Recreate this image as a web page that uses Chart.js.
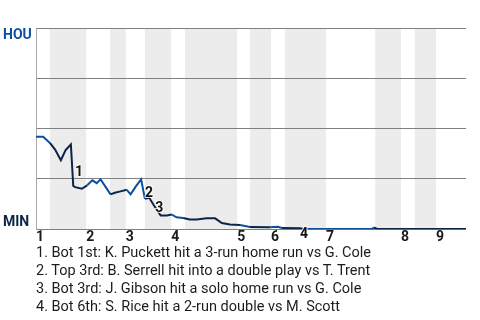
<!DOCTYPE html>
<html>
<head>
<meta charset="utf-8">
<script src="https://cdn.jsdelivr.net/npm/chart.js@4"></script>
<style>
  body { margin: 0; background: #fff; font-family: Roboto, sans-serif; }
  #wrap { position: relative; width: 480px; height: 320px; overflow: hidden; }
  #wpChart { position: absolute; left: 0; top: 0; }
  #notes { position: absolute; left: 36px; top: 244px; font-size: 14.5px; line-height: 18px; color: #1c1c1c; white-space: nowrap; }
</style>
</head>
<body>
<div id="wrap">
  <canvas id="wpChart" width="480" height="246"></canvas>
  <div id="notes"></div>
</div>
<script>
// x = game progress (plate appearances, roughly), y = HOU win probability (MIN = 0, HOU = 1)
const inningStart = [0, 10.5, 18.8, 28.3, 42.1, 49.2, 60.7, 76.4, 83.7];
const inningLabels = ["1", "2", "3", "4", "5", "6", "7", "8", "9"];
const bottomStart = [2.9, 15.5, 22.8, 31.2, 44.8, 52.1, 71.0, 79.3];
const gameEnd = 90;

const gameX = [0, 1.5, 2.9, 4.0, 5.2, 6.2, 7.3, 7.8, 8.2, 9.6, 10.7, 11.8, 12.7, 13.5, 14.6,
  15.6, 16.5, 17.7, 19.0, 19.8, 20.9, 22.0, 22.8, 23.7, 24.7, 25.3, 26.1, 27.4, 28.4, 29.4,
  30.8, 32.2, 33.6, 35.7, 37.5, 38.9, 40.6, 42.7, 44.8, 49.0, 50.6, 51.5, 55.3, 55.9, 70.3,
  70.7, 71.4, 90];
const winProb = [0.459, 0.459, 0.429, 0.396, 0.343, 0.393, 0.421, 0.215, 0.209, 0.201, 0.218, 0.243, 0.229, 0.248, 0.209,
  0.173, 0.181, 0.188, 0.196, 0.173, 0.213, 0.248, 0.151, 0.156, 0.118, 0.096, 0.068, 0.068, 0.073, 0.059,
  0.056, 0.048, 0.048, 0.054, 0.054, 0.031, 0.023, 0.021, 0.011, 0.010, 0.0125, 0.006, 0.005, 0.001, 0.001,
  0.0085, 0.001, 0.001];

// key plays: label spot on the chart + text
const eventX = [9.0, 23.65, 25.8, 56.1];
const eventY = [0.2825, 0.1775, 0.101, -0.0285];
const eventText = ["1", "2", "3", "4"];
const eventNotes = [
  "1. Bot 1st: K. Puckett hit a 3-run home run vs G. Cole",
  "2. Top 3rd: B. Serrell hit into a double play vs T. Trent",
  "3. Bot 3rd: J. Gibson hit a solo home run vs G. Cole",
  "4. Bot 6th: S. Rice hit a 2-run double vs M. Scott"
];

const HOU_BLUE = "#0d4f9f";
const MIN_NAVY = "#0b2447";

document.getElementById("notes").innerHTML = eventNotes.map(t => "<div>" + t + "</div>").join("");

function isBottomHalf(x) {
  for (let i = 0; i < bottomStart.length; i++) {
    let end = i + 1 < inningStart.length ? inningStart[i + 1] : gameEnd;
    if (x >= bottomStart[i] && x < end) return true;
  }
  return false;
}

const points = [];
for (let i = 0; i < gameX.length; i++) {
  points.push({ x: gameX[i], y: winProb[i] });
}

const bandsPlugin = {
  id: "halfBands",
  beforeDraw(chart) {
    const ctx = chart.ctx, area = chart.chartArea, xs = chart.scales.x;
    ctx.save();
    ctx.fillStyle = "#ececec";
    for (let i = 0; i < bottomStart.length; i++) {
      let end = i + 1 < inningStart.length ? inningStart[i + 1] : gameEnd;
      let x0 = xs.getPixelForValue(bottomStart[i]);
      let x1 = xs.getPixelForValue(end);
      ctx.fillRect(x0, area.top, x1 - x0, area.bottom - area.top);
    }
    ctx.restore();
  }
};

const labelsPlugin = {
  id: "teamAndPlays",
  afterDraw(chart) {
    const ctx = chart.ctx, xs = chart.scales.x, ys = chart.scales.y;
    ctx.save();
    ctx.font = "bold 14px Roboto";
    ctx.textAlign = "left";
    ctx.textBaseline = "alphabetic";
    ctx.fillStyle = HOU_BLUE;
    ctx.fillText("HOU", 3, ys.getPixelForValue(1) + 11);
    ctx.fillStyle = MIN_NAVY;
    ctx.fillText("MIN", 3, ys.getPixelForValue(0) - 3.5);

    ctx.textAlign = "center";
    ctx.textBaseline = "middle";
    ctx.lineWidth = 2;
    ctx.strokeStyle = "rgba(255,255,255,0.8)";
    ctx.fillStyle = "#111";
    for (let i = 0; i < eventText.length; i++) {
      let px = xs.getPixelForValue(eventX[i]);
      let py = ys.getPixelForValue(eventY[i]);
      ctx.strokeText(eventText[i], px, py);
      ctx.fillText(eventText[i], px, py);
    }
    ctx.restore();
  }
};

new Chart(document.getElementById("wpChart"), {
  type: "line",
  data: {
    datasets: [{
      data: points,
      borderWidth: 2,
      pointRadius: 0,
      tension: 0,
      fill: false,
      borderColor: HOU_BLUE,
      segment: {
        borderColor: c => isBottomHalf((c.p0.parsed.x + c.p1.parsed.x) / 2) ? MIN_NAVY : HOU_BLUE
      }
    }]
  },
  options: {
    responsive: false,
    animation: false,
    layout: { padding: { top: 28, right: 14, left: 0, bottom: 0 } },
    plugins: { legend: { display: false }, tooltip: { enabled: false } },
    scales: {
      x: {
        type: "linear",
        min: 0,
        max: gameEnd,
        afterBuildTicks: scale => {
          scale.ticks = inningStart.map(v => ({ value: v }));
        },
        ticks: {
          autoSkip: false,
          maxRotation: 0,
          padding: 0,
          labelOffset: 4,
          color: "#1a1a1a",
          font: { family: "Roboto", size: 14, weight: "bold" },
          callback: (v, i) => inningLabels[i]
        },
        grid: { display: false, drawTicks: false },
        border: { display: false }
      },
      y: {
        min: 0,
        max: 1,
        afterFit: scale => { scale.width = 36; },
        afterBuildTicks: scale => {
          scale.ticks = [0, 0.25, 0.5, 0.75, 1].map(v => ({ value: v }));
        },
        ticks: { display: false },
        grid: { color: "#808080", lineWidth: 1, drawTicks: false },
        border: { display: true, color: "#aaaaaa", width: 1 }
      }
    }
  },
  plugins: [bandsPlugin, labelsPlugin]
});
</script>
</body>
</html>
